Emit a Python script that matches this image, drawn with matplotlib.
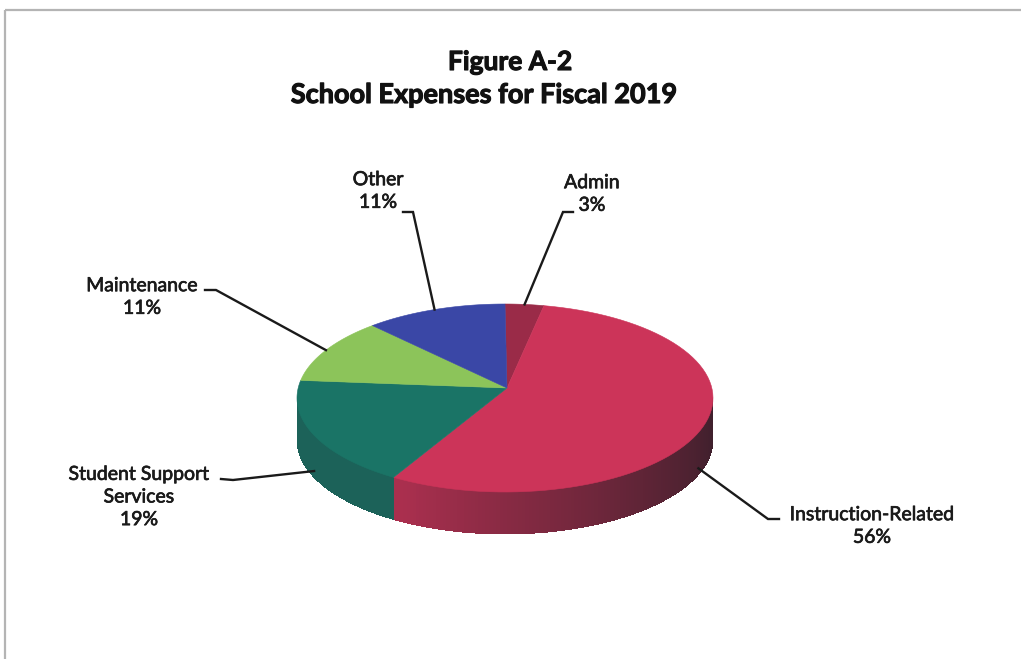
import numpy as np
import matplotlib
matplotlib.use("Agg")
import matplotlib.pyplot as plt
import matplotlib.patheffects as pe
from matplotlib.patches import Polygon
from matplotlib.colors import to_rgb

# spending shares, in pie order (clockwise from 12 o'clock)
categories = ["Admin", "Instruction-Related", "Student Support Services", "Maintenance", "Other"]
shares = [3, 56, 19, 11, 11]
label_names = ["Admin", "Instruction-Related", "Student Support\nServices", "Maintenance", "Other"]
top_colors = ["#9a2b48", "#cc3459", "#1a7466", "#8cc45a", "#3a47a6"]

title_lines = ["Figure A-2", "School Expenses for Fiscal 2019"]

# drawing geometry (pixel space)
W, H = 1021, 659
CX, CY = 505, 398          # ellipse centre
RX, RY = 208, 94           # ellipse semi-axes
APEX = (507, 388)          # where the slices meet on the top face
DEPTH = 42
SHADOW = np.array(to_rgb("#241c24"))

# label text position and leader elbow for each slice
label_pos = [(592, 194), (872, 526), (139, 497), (142, 297), (378, 191)]
elbows = [((573, 212), (563, 212)),
          ((779, 519), (768, 519)),
          ((221, 479), (233, 480)),
          ((205, 290), (216, 290)),
          ((403, 212), (413, 212))]


def rim(theta_deg, drop=0.0):
    t = np.radians(theta_deg)
    return CX + RX * np.sin(t), CY - RY * np.cos(t) + drop


def side_shade(theta):
    return 0.15 + 0.65 * np.clip((theta - 90) / 120.0, 0, 1) ** 1.3


fig = plt.figure(figsize=(W / 100, H / 100), dpi=100)
ax = fig.add_axes([0, 0, 1, 1])
ax.set_xlim(0, W)
ax.set_ylim(H, 0)
ax.axis("off")

# frame around the chart area
ax.plot([5, W], [10, 10], color="#b4b4b4", lw=1.6, solid_capstyle="butt")
ax.plot([5, 5], [10, H], color="#b4b4b4", lw=1.6, solid_capstyle="butt")

bounds = np.concatenate([[0], np.cumsum(shares)]) * 360.0 / sum(shares)

# front wall, drawn in thin strips so the shading can vary round the rim
for i, col in enumerate(top_colors):
    lo, hi = max(bounds[i], 90), min(bounds[i + 1], 270)
    if hi <= lo:
        continue
    steps = np.linspace(lo, hi, int(hi - lo) + 2)
    base = np.array(to_rgb(col))
    for t0, t1 in zip(steps[:-1], steps[1:]):
        f = side_shade(0.5 * (t0 + t1))
        c = base * f + SHADOW * (1 - f)
        quad = [rim(t0), rim(t1 + 0.4), rim(t1 + 0.4, DEPTH), rim(t0, DEPTH)]
        ax.add_patch(Polygon(quad, closed=True, facecolor=c, edgecolor="none",
                             antialiased=False))

# top face
for i, col in enumerate(top_colors):
    arc = np.linspace(bounds[i], bounds[i + 1], 80)
    xs, ys = rim(arc)
    pts = [APEX] + list(zip(xs, ys))
    ax.add_patch(Polygon(pts, closed=True, facecolor=col, edgecolor=col, lw=0.4))

heavy = [pe.withStroke(linewidth=0.5, foreground="#1a1a1a")]

# data labels with leader lines
for i, name in enumerate(label_names):
    mid = 0.5 * (bounds[i] + bounds[i + 1])
    front = np.cos(np.radians(mid)) < 0
    anchor = rim(mid, DEPTH * 0.85 if front else 0.0)
    (ex, ey), (kx, ky) = elbows[i]
    ax.plot([ex, kx, anchor[0]], [ey, ky, anchor[1]], color="#1a1a1a", lw=1.7,
            solid_joinstyle="miter")
    lx, ly = label_pos[i]
    ax.text(lx, ly, f"{name}\n{shares[i]}%", ha="center", va="center",
            fontsize=14, family="Lato", color="#1a1a1a",
            linespacing=1.4, path_effects=heavy)

title_fx = [pe.withStroke(linewidth=0.8, foreground="#111111")]
ax.text(510, 62, title_lines[0], ha="center", va="center", fontsize=19,
        family="Lato", fontweight="bold", color="#111111", path_effects=title_fx)
ax.text(484, 95, title_lines[1], ha="center", va="center", fontsize=19.5,
        family="Lato", fontweight="bold", color="#111111", path_effects=title_fx)

fig.savefig("out.png", dpi=100)
